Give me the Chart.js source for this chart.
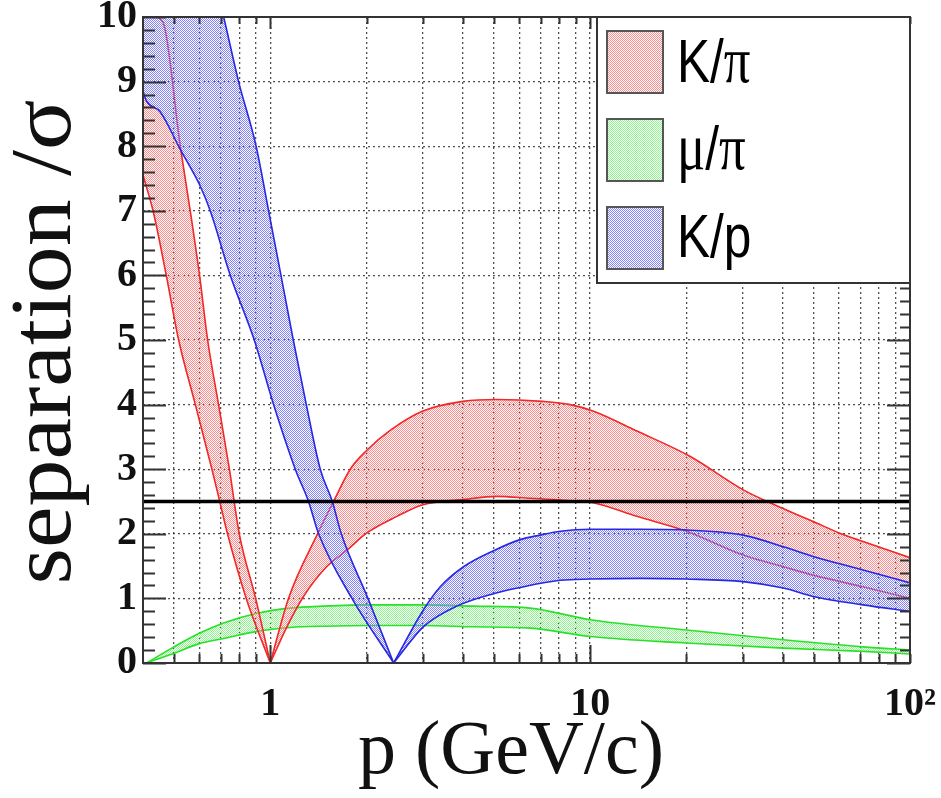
<!DOCTYPE html>
<html>
<head>
<meta charset="utf-8">
<title>separation vs p</title>
<script src="https://cdn.jsdelivr.net/npm/chart.js@4.4.1/dist/chart.umd.min.js"></script>
<style>
  html, body { margin: 0; padding: 0; background: #fff; }
  #wrap { width: 941px; height: 798px; }
</style>
</head>
<body>
<div id="wrap"><canvas id="sepChart" width="941" height="798"></canvas></div>
<script>
// ── Data ─────────────────────────────────────────────────────────────────
// K/pi band: falling branch (p < 1) and rising branch (p > 1), two edges each
const kpiFallP1 = [0.4, 0.437, 0.462, 0.523, 0.562, 0.601, 0.637, 0.689, 0.745, 0.80, 0.90, 1.0];
const kpiFallS1 = [10.05, 10.0, 9.92, 8.0, 7.0, 6.0, 5.0, 4.0, 3.0, 2.0, 1.0, 0.0];
const kpiFallP2 = [0.4, 0.43, 0.473, 0.517, 0.583, 0.657, 0.695, 0.735, 0.841, 1.0];
const kpiFallS2 = [7.55, 7.0, 6.0, 5.0, 4.0, 3.0, 2.5, 2.0, 1.0, 0.0];
const kpiRiseP1 = [1.0, 1.14, 1.405, 1.577, 1.778, 2.0, 2.37, 3.0, 4.0, 5.1, 7.1, 8.66, 10.2, 14.0,
                   20.5, 30.1, 36.5, 49.8, 60.3, 71.3, 100];
const kpiRiseS1 = [0.0, 1.0, 2.0, 2.5, 3.0, 3.29, 3.6, 3.9, 4.05, 4.08, 4.05, 4.0, 3.9, 3.59,
                   3.2, 2.68, 2.48, 2.19, 2.01, 1.88, 1.63];
const kpiRiseP2 = [1.0, 1.127, 1.27, 1.5, 1.74, 2.0, 2.49, 3.0, 4.0, 5.1, 6.5, 8.2, 10.2, 14.0,
                   20.0, 30.1, 40.2, 49.8, 71.3, 100];
const kpiRiseS2 = [0.0, 0.56, 1.03, 1.49, 1.75, 2.01, 2.27, 2.45, 2.53, 2.58, 2.55, 2.52, 2.48, 2.27,
                   2.04, 1.67, 1.49, 1.36, 1.18, 1.0];

// mu/pi band
const mupiP  = [0.41, 0.5, 0.6, 0.715, 0.909, 1.155, 1.468, 2.1, 3.01, 4.32, 6.49, 10, 20, 40.2, 71.5, 100];
const mupiHi = [0.0, 0.25, 0.46, 0.62, 0.77, 0.85, 0.88, 0.90, 0.90, 0.88, 0.85, 0.67, 0.51, 0.36, 0.25, 0.20];
const mupiLo = [0.0, 0.15, 0.30, 0.38, 0.49, 0.55, 0.57, 0.58, 0.58, 0.56, 0.54, 0.41, 0.31, 0.23, 0.18, 0.14];

// K/p band: falling branch (p < 2.43) and rising branch
const kpFallP1 = [0.4, 0.715, 0.796, 0.903, 0.988, 1.08, 1.18, 1.296, 1.433, 1.563, 1.667, 2.02, 2.43];
const kpFallS1 = [15.0, 10.0, 9.0, 8.0, 7.0, 6.0, 5.0, 4.0, 3.0, 2.5, 2.0, 1.0, 0.0];
const kpFallP2 = [0.4, 0.41, 0.453, 0.523, 0.604, 0.649, 0.75, 0.891, 1.024, 1.197, 1.317, 1.416, 1.80, 2.43];
const kpFallS2 = [8.85, 8.70, 8.53, 7.95, 7.38, 7.0, 6.0, 5.0, 4.0, 3.0, 2.5, 2.0, 1.0, 0.0];
const kpRiseP1 = [2.43, 3.01, 3.40, 4.02, 5.05, 6.04, 6.98, 8.06, 10.0, 14.3, 20.0, 30.1, 40.2, 49.8, 71.3, 100];
const kpRiseS1 = [0.0, 0.82, 1.18, 1.49, 1.75, 1.91, 1.98, 2.04, 2.07, 2.07, 2.06, 1.98, 1.80, 1.65, 1.44, 1.24];
const kpRiseP2 = [2.43, 3.01, 3.83, 5.05, 6.04, 8.06, 10.0, 14.3, 20.0, 30.1, 40.2, 49.8, 71.3, 100];
const kpRiseS2 = [0.0, 0.56, 0.88, 1.08, 1.17, 1.28, 1.30, 1.31, 1.30, 1.26, 1.16, 1.03, 0.90, 0.80];

// 2.5 sigma line
const cutP = [0.4, 100];
const cutS = [2.5, 2.5];

// axis ticks / labels
const pGrid = [0.5, 0.6, 0.7, 0.8, 0.9, 1, 2, 3, 4, 5, 6, 7, 8, 9, 10, 20, 30, 40, 50, 60, 70, 80, 90, 100];
const pLabels = { 1: '1', 10: '10', 100: '10²' };
const legendLabels = ['K/π', 'μ/π', 'K/p'];

// ── Helpers ──────────────────────────────────────────────────────────────
const pts = (ps, ss) => ps.map((p, i) => ({ x: p, y: ss[i] }));

// ROOT-like fine checker hatch: opaque dots, so the band drawn last wins on overlaps
function hatch(color) {
    const c = document.createElement('canvas');
    c.width = c.height = 4;
    const g = c.getContext('2d');
    g.fillStyle = color;
    for (let i = 0; i < 4; i++)
        for (let j = 0; j < 4; j++)
            if ((i + j) % 2 === 0) g.fillRect(i, j, 1, 1);
    return g.createPattern(c, 'repeat');
}

const RED = 'rgb(240,40,40)', GREEN = 'rgb(40,225,40)', BLUE = 'rgb(40,40,225)';
const redFill = hatch('rgb(255,140,140)');
const greenFill = hatch('rgb(140,245,140)');
const blueFill = hatch('rgb(130,130,255)');
const SERIF = '"Liberation Serif", "Times New Roman", serif';
const SANS = '"Liberation Sans", Arial, sans-serif';

const edge = (data, color, order, fill, bg) => ({
    data, borderColor: color, borderWidth: 1.6, pointRadius: 0,
    cubicInterpolationMode: 'monotone',
    fill: fill || false, backgroundColor: bg || 'transparent', order
});

// ── Frame, inner ticks, titles, legend ──────────────────────────────────
const decor = {
    id: 'decor',
    afterDraw(chart) {
        const { ctx, chartArea: a, scales: { x, y } } = chart;
        ctx.save();
        ctx.strokeStyle = '#333';
        ctx.lineWidth = 2;
        ctx.beginPath();
        for (let i = 0; i <= 50; i++) {
            const py = Math.round(y.getPixelForValue(i / 5)) + 0.5;
            const major = i % 5 === 0;
            ctx.moveTo(a.left, py); ctx.lineTo(a.left + (major ? 23 : 12), py);
            ctx.moveTo(a.right, py); ctx.lineTo(a.right - (major ? 23 : 10), py);
        }
        pGrid.forEach(v => {
            const px = Math.round(x.getPixelForValue(v)) + 0.5;
            const major = v === 1 || v === 10;
            ctx.moveTo(px, a.bottom); ctx.lineTo(px, a.bottom - (major ? 18 : 9));
            ctx.moveTo(px, a.top); ctx.lineTo(px, a.top + (major ? 12 : 7));
        });
        ctx.stroke();
        ctx.strokeRect(a.left, a.top, a.right - a.left, a.bottom - a.top);

        // axis titles
        ctx.fillStyle = '#111';
        ctx.textAlign = 'center';
        ctx.textBaseline = 'alphabetic';
        ctx.font = '76px ' + SERIF;
        ctx.fillText('p (GeV/c)', 511, 773);

        ctx.save();
        ctx.translate(70, 342);
        ctx.rotate(-Math.PI / 2);
        ctx.font = '86px ' + SERIF;
        const yt = 'separation /σ';
        const w = ctx.measureText(yt).width;
        ctx.scale(485 / w, 1);
        ctx.fillText(yt, 0, 0);
        ctx.restore();

        // legend box
        const lx = 597, ly = a.top, lw = a.right - lx, lh = 283 - a.top;
        ctx.fillStyle = '#fff';
        ctx.fillRect(lx, ly, lw, lh);
        ctx.strokeStyle = '#333';
        ctx.lineWidth = 2;
        ctx.strokeRect(lx, ly, lw, lh);
        const fills = [redFill, greenFill, blueFill];
        const rows = [31, 119, 207];
        const bases = [82, 169, 257];
        legendLabels.forEach((lab, i) => {
            ctx.fillStyle = fills[i];
            ctx.fillRect(607, rows[i], 56, 62);
            ctx.strokeStyle = '#555';
            ctx.strokeRect(607, rows[i], 56, 62);
            ctx.save();
            ctx.translate(677, bases[i]);
            ctx.scale(0.8, 1);
            ctx.fillStyle = '#000';
            ctx.textAlign = 'left';
            let cx = 0;
            for (const ch of lab) {
                ctx.font = /[α-ω]/.test(ch) ? '66px ' + SERIF : '62px ' + SANS;
                ctx.fillText(ch, cx, 0);
                cx += ctx.measureText(ch).width;
            }
            ctx.restore();
        });
        ctx.restore();
    }
};

new Chart(document.getElementById('sepChart'), {
    type: 'line',
    data: {
        datasets: [
            edge(pts(kpiFallP1, kpiFallS1), RED, 3),
            edge(pts(kpiFallP2, kpiFallS2), RED, 3, '-1', redFill),
            edge(pts(kpiRiseP1, kpiRiseS1), RED, 3),
            edge(pts(kpiRiseP2, kpiRiseS2), RED, 3, '-1', redFill),
            edge(pts(mupiP, mupiHi), GREEN, 4),
            edge(pts(mupiP, mupiLo), GREEN, 4, '-1', greenFill),
            edge(pts(kpFallP1, kpFallS1), BLUE, 2),
            edge(pts(kpFallP2, kpFallS2), BLUE, 2, '-1', blueFill),
            edge(pts(kpRiseP1, kpRiseS1), BLUE, 2),
            edge(pts(kpRiseP2, kpRiseS2), BLUE, 2, '-1', blueFill),
            { data: pts(cutP, cutS), borderColor: '#000', borderWidth: 3.5, pointRadius: 0, fill: false, order: 0 }
        ]
    },
    options: {
        responsive: false,
        animation: false,
        layout: { padding: { left: 0, right: 31, top: 17, bottom: 0 } },
        plugins: { legend: { display: false }, tooltip: { enabled: false } },
        scales: {
            x: {
                type: 'logarithmic',
                min: 0.4,
                max: 100,
                afterBuildTicks: s => { s.ticks = pGrid.map(v => ({ value: v, major: v === 1 || v === 10 })); },
                afterFit: s => { s.height = 135; s.paddingLeft = 0; s.paddingRight = 0; },
                grid: { color: 'rgba(50,50,50,0.85)', lineWidth: 1.3, drawTicks: false },
                border: { display: false, dash: [2, 3] },
                ticks: {
                    autoSkip: false, maxRotation: 0, padding: 18, color: '#111',
                    font: { family: SERIF, size: 40, weight: 'bold' },
                    callback: v => pLabels[v] || ''
                }
            },
            y: {
                min: 0,
                max: 10,
                afterFit: s => { s.width = 143; s.paddingTop = 0; s.paddingBottom = 0; },
                grid: { color: 'rgba(50,50,50,0.85)', lineWidth: 1.3, drawTicks: false },
                border: { display: false, dash: [2, 3] },
                ticks: {
                    stepSize: 1, padding: 6, color: '#111',
                    font: { family: SERIF, size: 40, weight: 'bold' }
                }
            }
        }
    },
    plugins: [decor]
});
</script>
</body>
</html>
